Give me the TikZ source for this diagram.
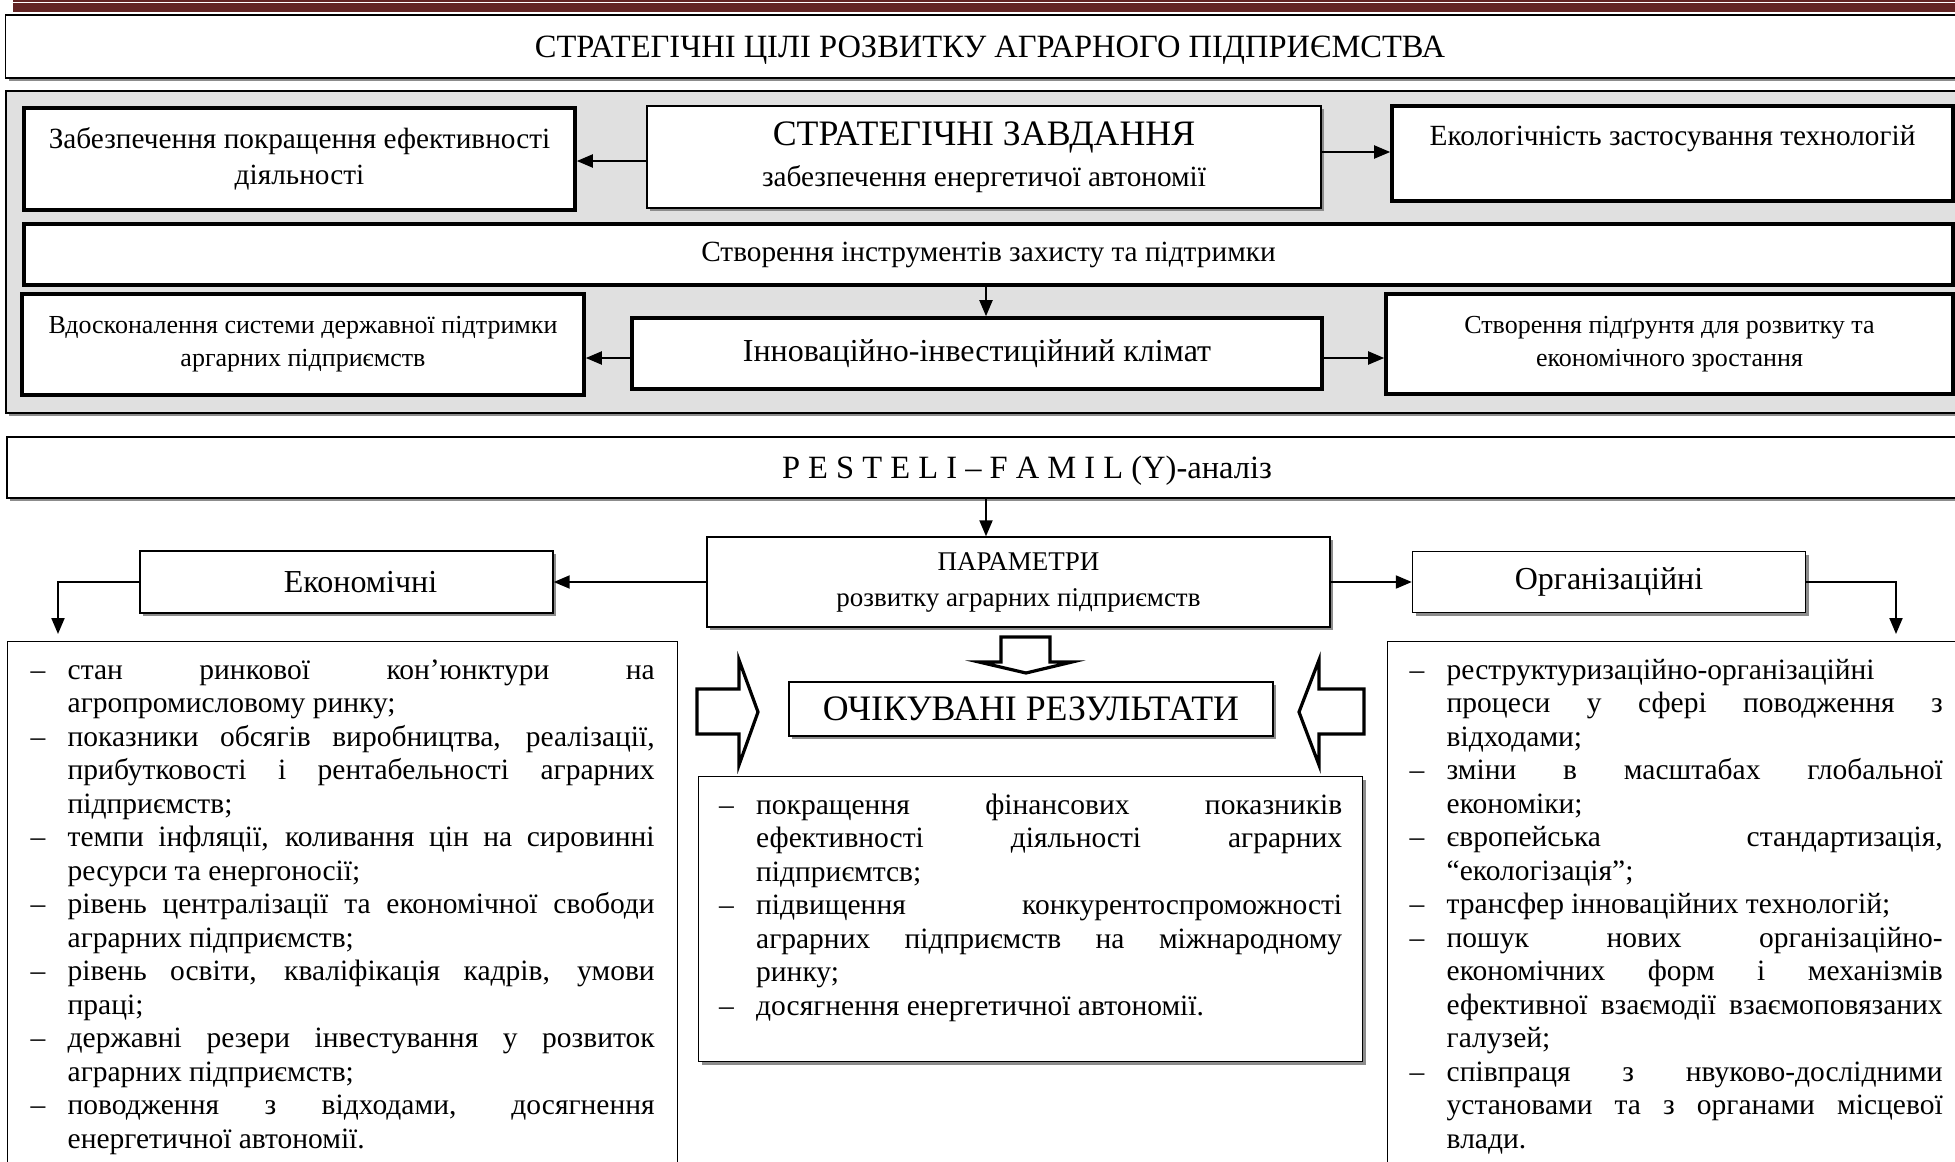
\documentclass[tikz,border=0pt]{standalone}
\usepackage{fontspec}
\setmainfont{Liberation Serif}
\usetikzlibrary{arrows.meta,shadows}
\definecolor{bandred}{HTML}{622423}

% list lines: dash + justified, dash + ragged, justified, ragged
\newlength\dashw \setlength\dashw{18.5pt}
\newcommand\dl[1]{\hbox to\linewidth{\strut\makebox[\dashw][l]{–}#1}}
\newcommand\dr[1]{\hbox{\strut\makebox[\dashw][l]{–}#1}}
\newcommand\jl[1]{\hbox to\linewidth{\strut\hskip\dashw #1}}
\newcommand\rl[1]{\hbox{\strut\hskip\dashw #1}}
\newcommand\fbig{\fontsize{17.9}{20}\selectfont}

\begin{document}
\begin{tikzpicture}[x=0.5pt, y=-0.5pt,
    box/.style={draw, line width=0.7pt, fill=white, align=center, inner sep=0pt},
    bold/.style={box, line width=1.8pt},
    shade/.style={drop shadow={shadow xshift=1.5pt, shadow yshift=-1.5pt, fill=black!45, opacity=1}},
    arr/.style={-{Triangle[length=8pt,width=6.5pt]}, line width=1pt},
    blk/.style={line width=1.6pt, fill=white, line join=miter},
    txt/.style={font=\fontsize{14.65}{18}\selectfont},
    small/.style={font=\fontsize{13}{16.5}\selectfont},
    head/.style={font=\fontsize{16.25}{18}\selectfont, text depth=0pt},
    lst/.style={draw, line width=0.7pt, fill=white, anchor=north west, inner ysep=7.1pt,
      font=\fontsize{14.75}{16.75}\selectfont}]
    \useasboundingbox (0,0) rectangle (1955,1162);
    \clip (0,0) rectangle (1955,1162);
    % Top band
    \fill[bandred] (13,0) rectangle (1960,12);
    \draw[white, line width=0.6pt] (13,2.5) -- (1960,2.5);
    % Goals and tasks
    \node[box, shade, head, minimum width=984.5pt, minimum height=31.5pt] (goal) at (990,46.5)
    {СТРАТЕГІЧНІ ЦІЛІ РОЗВИТКУ АГРАРНОГО ПІДПРИЄМСТВА};
    \draw[line width=0.8pt, fill=black!12, shade] (6,91) rectangle (1975,413);
    \node[bold, txt, minimum width=275.5pt, minimum height=51pt] (eff) at (299.5,159)
    {Забезпечення покращення ефективності\\діяльності};
    \node[box, shade, font=\fontsize{14.65}{20.5}\selectfont, minimum width=337pt,
    minimum height=51pt] (task) at (984,157)
    {{\fbig СТРАТЕГІЧНІ ЗАВДАННЯ}\\забезпечення енергетичої автономії};
    \node[bold, txt, minimum width=280.5pt, minimum height=47.5pt] (eco) at (1672.5,153.5)
    {Екологічність застосування технологій\\\mbox{}};
    \node[bold, txt, minimum width=964.5pt, minimum height=30.5pt] (tools) at (988.5,254.5)
    {Створення інструментів захисту та підтримки};
    \node[bold, small, minimum width=281pt, minimum height=50.5pt] (state) at (303,344.5)
    {Вдосконалення системи державної підтримки\\аргарних підприємств};
    \node[bold, font=\fontsize{16}{18}\selectfont, minimum width=345pt, minimum height=35.5pt]
    (clim) at (977,353.5) {Інноваційно-інвестиційний клімат};
    \node[bold, small, minimum width=283.5pt, minimum height=50pt] (base) at (1669.5,344)
    {Створення підґрунтя для розвитку та\\економічного зростання};
    % Draw arrows
    \draw[arr] (task.west |- 0,161) -- (eff.east |- 0,161);
    \draw[arr] (task.east |- 0,152) -- (eco.west |- 0,152);
    \draw[arr] (tools.south -| 986,0) -- (clim.north -| 986,0);
    \draw[arr] (clim.west |- 0,358) -- (state.east |- 0,358);
    \draw[arr] (clim.east |- 0,358) -- (base.west |- 0,358);
    % Analysis and parameters
    \node[box, shade, head, minimum width=1020pt, minimum height=30.5pt] (pest) at (1027,467.5)
    {P E S T E L I – F A M I L (Y)-аналіз};
    \node[box, shade, font=\fontsize{13.5}{18}\selectfont, minimum width=311.5pt,
    minimum height=45pt] (par) at (1018.5,582) {ПАРАМЕТРИ\\розвитку аграрних підприємств};
    \node[box, shade, font=\fontsize{16}{18}\selectfont, minimum width=206.5pt,
    minimum height=31pt] (econ) at (346.5,582) {\hspace*{14pt}Економічні};
    \node[box, shade, font=\fontsize{16}{18}\selectfont, minimum width=196.5pt,
    minimum height=30.5pt] (org) at (1609,582) {Організаційні};
    \coordinate (econend) at (58,634); \coordinate (orgend) at (1896,634);
    \draw[arr] (pest.south -| 986,0) -- (par.north -| 986,0);
    \draw[arr] (par) -- (econ); \draw[arr] (par) -- (org);
    \draw[arr] (econ.west) -| (econend); \draw[arr] (org.east) -| (orgend);
    % Expected results with block arrows
    \node[box, shade, font=\fbig, minimum width=242pt, minimum height=27pt] (res) at (1031,709)
    {ОЧІКУВАНІ РЕЗУЛЬТАТИ};
    \draw[blk] (1001,637) -- (1050,637) -- (1050,662) -- (1072,662) -- (1026,673) -- (979,662)
    -- (1001,662) -- cycle;
    \draw[blk] (697,689) -- (739,689) -- (739,660) -- (758,712) -- (739,765) -- (739,734)
    -- (697,734) -- cycle;
    \draw[blk] (1364,689) -- (1319,689) -- (1319,660) -- (1299,712) -- (1319,765) -- (1319,734)
    -- (1364,734) -- cycle;
    % Lists
    \node[lst, inner xsep=11.5pt] (econlist) at (7,641) {\parbox[t][262pt][t]{312pt}{%
        \dl{стан ринкової кон’юнктури на}
        \rl{агропромисловому ринку;}
        \dl{показники обсягів виробництва, реалізації,}
        \jl{прибутковості і рентабельності аграрних}
        \rl{підприємств;}
        \dl{темпи інфляції, коливання цін на сировинні}
        \rl{ресурси та енергоносії;}
        \dl{рівень централізації та економічної свободи}
        \rl{аграрних підприємств;}
        \dl{рівень освіти, кваліфікація кадрів, умови}
        \rl{праці;}
        \dl{державні резери інвестування у розвиток}
        \rl{аграрних підприємств;}
        \dl{поводження з відходами, досягнення}
        \rl{енергетичної автономії.}}};
    \node[lst, shade, inner xsep=10.25pt] (reslist) at (698,776) {\parbox[t][128.3pt][t]{311.5pt}{%
        \dl{покращення фінансових показників}
        \jl{ефективності діяльності аграрних}
        \rl{підприємтсв;}
        \dl{підвищення конкурентоспроможності}
        \jl{аграрних підприємств на міжнародному}
        \rl{ринку;}
        \dr{досягнення енергетичної автономії.}}};
    \node[lst, inner xsep=11pt] (orglist) at (1387,641) {\parbox[t][262pt][t]{266.5pt}{%
        \dr{реструктуризаційно-організаційні}
        \jl{процеси у сфері поводження з}
        \rl{відходами;}
        \dl{зміни в масштабах глобальної}
        \rl{економіки;}
        \dl{європейська стандартизація,}
        \rl{“екологізація”;}
        \dr{трансфер інноваційних технологій;}
        \dl{пошук нових організаційно-}
        \jl{економічних форм і механізмів}
        \jl{ефективної взаємодії взаємоповязаних}
        \rl{галузей;}
        \dl{співпраця з нвуково-дослідними}
        \jl{установами та з органами місцевої}
        \rl{влади.}}};
\end{tikzpicture}
\end{document}
